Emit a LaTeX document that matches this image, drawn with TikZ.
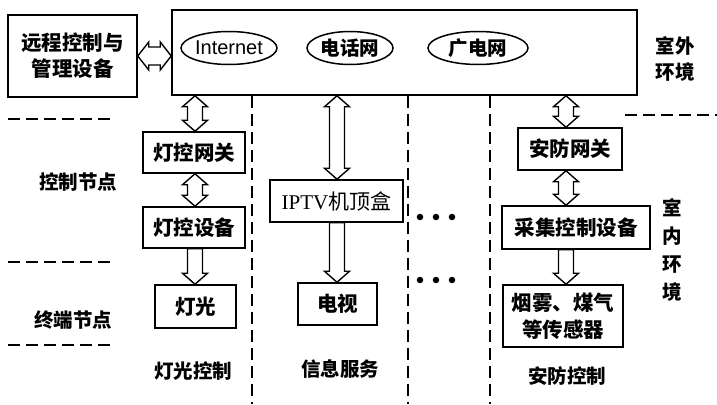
\documentclass[tikz,border=0pt]{standalone}
\usepackage{fontspec}
\setmainfont{Liberation Serif}
\newfontfamily\cjk{Noto Sans CJK SC}
\newfontfamily\latsans{Liberation Sans}
\usetikzlibrary{calc,shapes.geometric}
\newcommand\vdouble[2]{\draw[barrow] let \p1=(#1), \p2=(#2) in (\x1,\y1) -- (\x1-12.5,\y1-11) -- (\x1-7.5,\y1-11) -- (\x1-7.5,\y2+11) -- (\x1-12.5,\y2+11) -- (\x1,\y2) -- (\x1+12.5,\y2+11) -- (\x1+7.5,\y2+11) -- (\x1+7.5,\y1-11) -- (\x1+12.5,\y1-11) -- cycle;}
\newcommand\vsingle[2]{\draw[barrow] let \p1=(#1), \p2=(#2) in (\x1-7.5,\y1) -- (\x1-7.5,\y2+11) -- (\x1-12.5,\y2+11) -- (\x1,\y2) -- (\x1+12.5,\y2+11) -- (\x1+7.5,\y2+11) -- (\x1+7.5,\y1) -- cycle;}
\newcommand\hdouble[2]{\draw[barrow] let \p1=(#1), \p2=(#2) in (\x1,\y1) -- (\x1+11,\y1+14) -- (\x1+11,\y1+9) -- (\x2-11,\y1+9) -- (\x2-11,\y1+14) -- (\x2,\y1) -- (\x2-11,\y1-14) -- (\x2-11,\y1-9) -- (\x1+11,\y1-9) -- (\x1+11,\y1-14) -- cycle;}
\begin{document}
\begin{tikzpicture}[x=1pt,y=-1pt,line width=1.5pt,
  box/.style={draw,rectangle,inner sep=0pt,align=center,font=\cjk\bfseries\fontsize{20.5}{26}\selectfont},
  lbl/.style={inner sep=0pt,align=center,font=\cjk\bfseries\fontsize{19.5}{24}\selectfont},
  net/.style={draw,ellipse,inner sep=0pt,minimum height=33pt,font=\cjk\bfseries\fontsize{19.5}{22}\selectfont},
  barrow/.style={draw,line width=1.4pt,fill=white,line join=miter},
  sep/.style={dash pattern=on 12pt off 6pt,line width=1.5pt},
  dotc/.style={fill=black,circle,inner sep=0pt,minimum size=6.5pt}]
\useasboundingbox (0,0) rectangle (717,404);

% top boxes
\node[box,minimum width=129pt,minimum height=82pt] (remote) at (72.5,56) {远程控制与\\管理设备};
\node[box,minimum width=465pt,minimum height=85pt] (big) at (404.5,52.5) {};
\node[net,minimum width=96pt,font=\latsans\fontsize{20}{22}\selectfont] (inet) at (229,48) {Internet};
\node[net,minimum width=86pt] (tel) at (350,48) {电话网};
\node[net,minimum width=100pt] (tvnet) at (478,48) {广电网};

% lamp column
\node[box,minimum width=102pt,minimum height=41pt] (lg) at (194,152.5) {灯控网关};
\node[box,minimum width=102pt,minimum height=41pt] (ld) at (194,227.5) {灯控设备};
\node[box,minimum width=81pt,minimum height=43pt] (lamp) at (195.5,306.5) {灯光};

% info column
\node[box,minimum width=133pt,minimum height=42pt,font=\fontsize{21}{25}\selectfont] (iptv) at (336.5,201) {IPTV{\cjk 机顶盒}};
\node[box,minimum width=79pt,minimum height=42pt] (tv) at (337.5,304) {电视};

% security column
\node[box,minimum width=104pt,minimum height=42pt] (sg) at (570,149) {安防网关};
\node[box,minimum width=148pt,minimum height=43pt] (sc) at (576,227.5) {采集控制设备};
\node[box,minimum width=120pt,minimum height=62pt,font=\cjk\bfseries\fontsize{20.5}{27}\selectfont] (ss) at (563,316) {烟雾、煤气\\等传感器};

% labels
\node[lbl] (l1) at (193,371) {灯光控制};
\node[lbl] (l2) at (340,369) {信息服务};
\node[lbl] (l3) at (567,376) {安防控制};
\node[lbl] (kz) at (78,182) {控制节点};
\node[lbl] (zd) at (73,320) {终端节点};
\node[lbl,font=\cjk\bfseries\fontsize{19.5}{26}\selectfont] (out) at (675,59) {室外\\环境};
\node[lbl,font=\cjk\bfseries\fontsize{19.5}{28}\selectfont] (in) at (672,250) {室\\内\\环\\境};

% dots
\foreach \x/\n in {420/a,436/b,452/c}{
  \node[dotc] (d1\n) at (\x,217) {};
  \node[dotc] (d2\n) at (\x,280) {};
}

% column coordinates
\coordinate (c1) at (195,0);
\coordinate (c2) at (337,0);
\coordinate (c3) at (566,0);
\coordinate (v1) at (252,404);
\coordinate (v2) at (408,404);
\coordinate (v3) at (490,404);

% separators
\draw[sep] (v1 |- big.south) -- (v1);
\draw[sep] (v2 |- big.south) -- (v2);
\draw[sep] (v3 |- big.south) -- (v3);
\coordinate (h1a) at (8,119); \coordinate (h1b) at (110,119);
\coordinate (h2a) at (8,262); \coordinate (h2b) at (110,262);
\coordinate (h3a) at (8,345); \coordinate (h3b) at (110,345);
\coordinate (h4a) at (625,115); \coordinate (h4b) at (717,115);
\draw[sep] (h1a) -- (h1b);
\draw[sep] (h2a) -- (h2b);
\draw[sep] (h3a) -- (h3b);
\draw[sep] (h4a) -- (h4b);

% arrows
\hdouble{remote.east}{big.west |- remote.east}
\vdouble{c1 |- big.south}{c1 |- lg.north}
\vdouble{c1 |- lg.south}{c1 |- ld.north}
\vsingle{c1 |- ld.south}{c1 |- lamp.north}
\vdouble{c2 |- big.south}{c2 |- iptv.north}
\vsingle{c2 |- iptv.south}{c2 |- tv.north}
\vdouble{c3 |- big.south}{c3 |- sg.north}
\vdouble{c3 |- sg.south}{c3 |- sc.north}
\vsingle{c3 |- sc.south}{c3 |- ss.north}
\end{tikzpicture}
\end{document}
